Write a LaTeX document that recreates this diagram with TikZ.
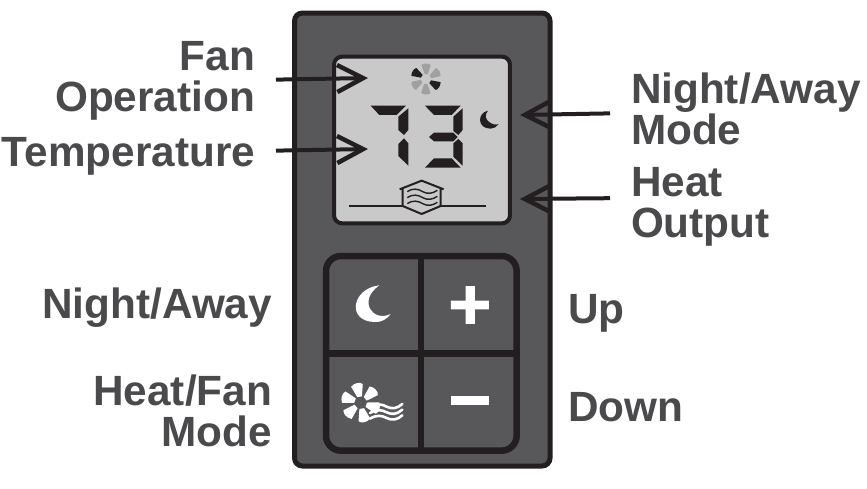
\documentclass[tikz,border=0pt]{standalone}
\usepackage{fontspec}
\setmainfont{Liberation Sans}
\usetikzlibrary{arrows.meta}
\definecolor{ink}{HTML}{231F20}
\definecolor{panel}{HTML}{58585A}
\definecolor{lcd}{HTML}{C9C9C9}
\definecolor{lbl}{HTML}{4A4A4C}
\definecolor{bladegray}{HTML}{A0A0A0}
\tikzset{
  lab/.style={font=\fontsize{42.3}{41}\selectfont\bfseries,text=lbl,inner sep=0pt,outer sep=0pt},
  callout/.style={draw=ink,line width=4pt,-{Straight Barb[length=26pt,width=27pt,line width=4.5pt]},shorten <=21pt},
  seg/.style={fill=ink,draw=none},
  wave/.style={line width=1.4pt,draw=ink},
  wavew/.style={line width=2.6pt,draw=white,line cap=round},
  zl/.style={x=0.3333pt,y=-0.3333pt}
}
\begin{document}
\begin{tikzpicture}[x=1pt,y=-1pt]
\useasboundingbox (0,0) rectangle (867,488);
\fill[white] (0,0) rectangle (867,488);
% housing
\draw[ink,line width=5pt,fill=panel,rounded corners=8pt] (294.5,13) rectangle (550,466);
% LCD
\begin{scope}[shift={(330,50)},zl]
  \draw[ink,line width=4pt,fill=lcd,rounded corners=8pt] (12,20) rectangle (540,520);
  % digit 7
  \fill[seg] (122,167)--(228,167)--(200,195)--(148,195)--cycle;
  \fill[seg] (235,175)--(235,240)--(222,255)--(205,240)--(205,200)--cycle;
  \fill[seg] (222,265)--(235,280)--(235,347)--(205,318)--(205,282)--cycle;
  % digit 3
  \fill[seg] (285,167)--(392,167)--(365,195)--(312,195)--cycle;
  \fill[seg] (398,175)--(398,240)--(385,255)--(370,243)--(370,200)--cycle;
  \fill[seg] (297,261)--(312,248)--(370,248)--(383,261)--(370,274)--(312,274)--cycle;
  \fill[seg] (385,267)--(398,280)--(398,347)--(370,320)--(370,280)--cycle;
  \fill[seg] (285,353)--(312,325)--(365,325)--(392,353)--cycle;
  % moon
  \fill[ink] (474,182) .. controls (442,188) and (440,236) .. (482,236) .. controls (492,236) and (501,230) .. (506,222) .. controls (490,230) and (452,208) .. (474,182) -- cycle;
  % fan
  \foreach \a/\c in {147/ink,327/ink,27/bladegray,87/bladegray,207/bladegray,267/bladegray}{
    \fill[\c,shift={(288,87)},rotate=\a] (15,-5) -- (42,-16) .. controls (48,-6) and (48,6) .. (42,12) -- (15,5) -- cycle;
  }
  % heat output
  \draw[ink,line width=2pt] (58,467) -- (218,467) (332,467) -- (467,467);
  \draw[ink,line width=2pt,line join=round] (209,418) -- (275,392) -- (341,418) (218,416) -- (218,468) -- (275,492) -- (332,468) -- (332,416);
  \foreach \y in {425,443,461}{
    \draw[wave] (232,\y) .. controls (250,\y-12) and (265,\y-8) .. (278,\y) .. controls (292,\y+8) and (308,\y+6) .. (322,\y-4);
  }
\end{scope}
% button block
\begin{scope}[shift={(320,250)},zl]
  \draw[ink,line width=6.5pt,fill=panel,rounded corners=15pt] (18,18) rectangle (590,602);
  \draw[ink,line width=6.5pt] (303,18) -- (303,602) (18,310) -- (590,310);
  % moon
  \fill[white] (178,106) .. controls (95,115) and (78,215) .. (165,216) .. controls (185,218) and (203,205) .. (212,192) .. controls (158,218) and (112,152) .. (178,106) -- cycle;
  % plus
  \fill[white] (437,108) rectangle (465,222) (393,152) rectangle (507,178);
  % minus
  \fill[white] (393,438) rectangle (507,466);
  % fan
  \foreach \a in {-20,40,100,160,220,280}{
    \fill[white,shift={(122,458)},rotate=\a] (18,-7) -- (52,-20) .. controls (62,-8) and (62,8) .. (54,16) -- (18,7) -- cycle;
  }
  % waves
  \foreach \y in {470,487,504}{
    \draw[wavew] (150,\y+2) .. controls (170,\y-10) and (185,\y-8) .. (200,\y) .. controls (215,\y+8) and (232,\y+6) .. (247,\y-8);
  }
\end{scope}
% labels
\node[lab,align=right,anchor=east] (fan) at (255,81) {Fan\\Operation};
\node[lab,anchor=east] (temp) at (255,156) {Temperature};
\node[lab,align=left,anchor=west] (nam) at (631,109) {Night/Away\\Mode};
\node[lab,align=left,anchor=west] (heat) at (631,207) {Heat\\Output};
\node[lab,anchor=east] (night) at (272,308) {Night/Away};
\node[lab,align=right,anchor=east] (hf) at (272,411) {Heat/Fan\\Mode};
\node[lab,anchor=west] (up) at (568,313) {Up};
\node[lab,anchor=west] (down) at (568,407) {Down};
% callout targets
\coordinate (tfan) at (368,78);
\coordinate (ttemp) at (368,149);
\coordinate (tnam) at (520,115);
\coordinate (theat) at (520,199);
\draw[callout] ([yshift=1pt]fan.east) -- (tfan);
\draw[callout] ([yshift=5pt]temp.east) -- (ttemp);
\draw[callout] ([yshift=-4pt]nam.west) -- (tnam);
\draw[callout] ([yshift=9pt]heat.west) -- (theat);
\end{tikzpicture}
\end{document}
